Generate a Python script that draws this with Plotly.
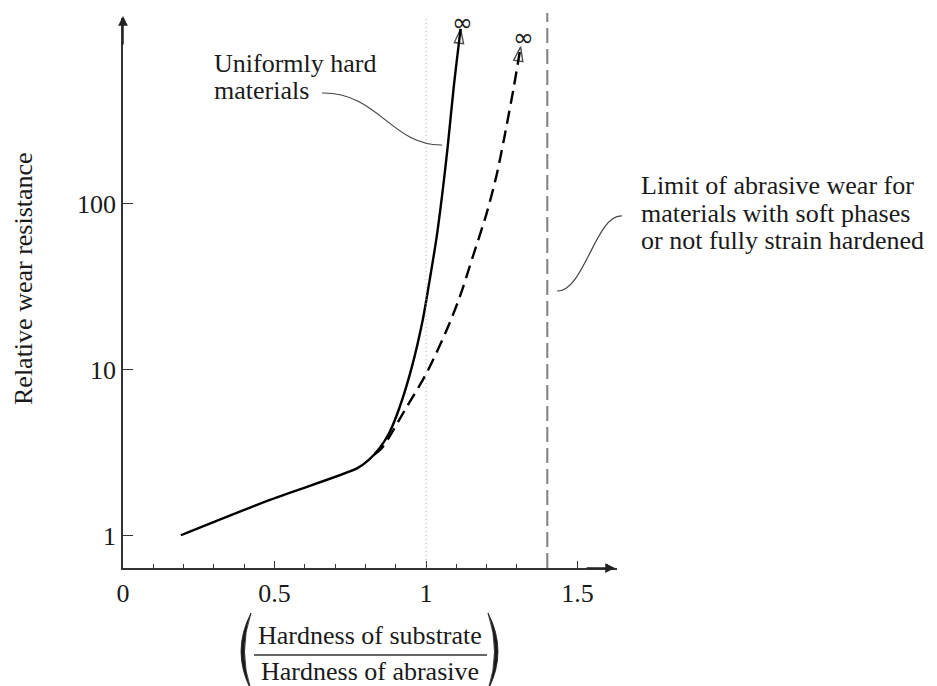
import plotly.graph_objects as go

# ---------------- data ----------------
solid_x = [0.191, 0.485, 0.775, 0.811, 0.847, 0.880, 0.913, 0.953, 0.989, 1.012, 1.035, 1.055, 1.072, 1.091, 1.114]
solid_y = [1.01, 1.65, 2.57, 2.87, 3.39, 4.23, 5.98, 10.4, 20.0, 34.9, 63.3, 121, 227, 500, 1133]

dashed_x = [0.83, 0.857, 0.936, 1.002, 1.068, 1.111, 1.154, 1.200, 1.233, 1.263, 1.289, 1.312]
dashed_y = [3.1, 3.44, 5.98, 9.6, 17.4, 27.5, 48, 88, 150, 279, 500, 883]

limit_x = 1.4          # limit for materials with soft phases
unit_x = 1.0           # hardness ratio = 1

x_tickvals = [0, 0.5, 1, 1.5]
x_ticktext = ["0", "0.5", "1", "1.5"]
y_tickvals = [1, 10, 100]
y_ticktext = ["1", "10", "100"]

label_uniform = ["Uniformly hard", "materials"]
label_limit = ["Limit of abrasive wear for", "materials with soft phases", "or not fully strain hardened"]
label_y = "Relative wear resistance"
label_num = "Hardness of substrate"
label_den = "Hardness of abrasive"

# ---------------- layout geometry (reference pixel frame) ----------------
OX, OY = 8, 8                      # page body offset
W, H = 937 - 2 * OX, 686 - OY
L, T = 123, 18                     # plot-area left / top in page pixels
PW, PH = 494, 550
FONT = "Liberation Serif"
FS = 26
INK = "#1a1a1a"


def px(x):
    return (x - L) / PW


def py(y):
    return (T + PH - y) / PH


fig = go.Figure()

arrow_marker = dict(symbol="arrow-open", angleref="previous", color="black",
                    line=dict(width=1.4, color="black"))

fig.add_trace(go.Scatter(
    x=solid_x, y=solid_y, mode="lines+markers",
    line=dict(color="black", width=2.4, shape="spline", smoothing=0.8),
    marker=dict(size=[0] * (len(solid_x) - 1) + [15], **arrow_marker),
    showlegend=False, hoverinfo="skip", cliponaxis=False,
))
fig.add_trace(go.Scatter(
    x=dashed_x, y=dashed_y, mode="lines+markers",
    line=dict(color="black", width=2.4, dash="13px,7px", shape="spline", smoothing=0.8),
    marker=dict(size=[0] * (len(dashed_x) - 1) + [15], **arrow_marker),
    showlegend=False, hoverinfo="skip", cliponaxis=False,
))

shapes = []
# reference lines
shapes.append(dict(type="line", xref="x", yref="paper", x0=unit_x, x1=unit_x, y0=0, y1=py(16),
                   line=dict(color="#b0b0b0", width=1, dash="1px,3px")))
shapes.append(dict(type="line", xref="x", yref="paper", x0=limit_x, x1=limit_x, y0=0, y1=py(13),
                   line=dict(color="#808080", width=2, dash="15px,6px")))


def bez(p0, c1, c2, p1):
    return "M{},{} C{},{} {},{} {},{}".format(px(p0[0]), py(p0[1]), px(c1[0]), py(c1[1]),
                                             px(c2[0]), py(c2[1]), px(p1[0]), py(p1[1]))


# leader lines
shapes.append(dict(type="path", xref="paper", yref="paper",
                   path=bez((322, 93), (378, 92), (392, 146), (442, 145)),
                   line=dict(color="#444", width=1.2)))
shapes.append(dict(type="path", xref="paper", yref="paper",
                   path=bez((622, 216), (596, 214), (584, 292), (557, 291)),
                   line=dict(color="#444", width=1.2)))


# parentheses of the fraction
def paren(tip_x, out_c, in_c, top, bot):
    mid = (top + bot) / 2
    return "M{},{} Q{},{} {},{} Q{},{} {},{} Z".format(
        px(tip_x), py(top), px(out_c), py(mid), px(tip_x), py(bot),
        px(in_c), py(mid), px(tip_x), py(top))


shapes.append(dict(type="path", xref="paper", yref="paper",
                   path=paren(251, 231, 238, 613, 690), fillcolor=INK,
                   line=dict(color=INK, width=0.8)))
shapes.append(dict(type="path", xref="paper", yref="paper",
                   path=paren(488, 508, 501, 613, 690), fillcolor=INK,
                   line=dict(color=INK, width=0.8)))
# fraction bar
shapes.append(dict(type="line", xref="paper", yref="paper", x0=px(254), x1=px(487), y0=py(655), y1=py(655),
                   line=dict(color="#333", width=1.5)))

annotations = []
# axis arrows
annotations.append(dict(x=0, y=py(16), xref="paper", yref="paper", text="", showarrow=True,
                        ax=0, ay=30, arrowhead=2, arrowsize=1.3, arrowwidth=1.5, arrowcolor="#222"))
annotations.append(dict(x=px(615), y=0, xref="paper", yref="paper", text="", showarrow=True,
                        ax=-30, ay=0, arrowhead=2, arrowsize=1.3, arrowwidth=1.5, arrowcolor="#222"))
# infinity symbols
for cx, cy in [(462, 23), (523, 37)]:
    annotations.append(dict(x=px(cx), y=py(cy), xref="paper", yref="paper", text="∞", showarrow=False,
                            xanchor="center", yanchor="middle",
                            font=dict(size=25, color=INK, family="DejaVu Sans")))
# labels
for i, line in enumerate(label_uniform):
    annotations.append(dict(x=px(212), y=py(64 + 27 * i), xref="paper", yref="paper", text=line,
                            showarrow=False, xanchor="left", yanchor="middle", align="left",
                            font=dict(size=FS, color=INK, family=FONT)))
for i, line in enumerate(label_limit):
    annotations.append(dict(x=px(639), y=py(186 + 27.5 * i), xref="paper", yref="paper", text=line,
                            showarrow=False, xanchor="left", yanchor="middle", align="left",
                            font=dict(size=FS, color=INK, family=FONT)))
annotations.append(dict(x=px(24), y=py(279), xref="paper", yref="paper", text=label_y,
                        showarrow=False, textangle=-90, xanchor="center", yanchor="middle",
                        font=dict(size=FS, color=INK, family=FONT)))
annotations.append(dict(x=px(370), y=py(635), xref="paper", yref="paper", text=label_num,
                        showarrow=False, xanchor="center", yanchor="middle",
                        font=dict(size=FS, color=INK, family=FONT)))
annotations.append(dict(x=px(370), y=py(672), xref="paper", yref="paper", text=label_den,
                        showarrow=False, xanchor="center", yanchor="middle",
                        font=dict(size=FS, color=INK, family=FONT)))

fig.update_layout(
    width=W, height=H,
    margin=dict(l=L - OX, r=W - (L - OX) - PW, t=T - OY, b=H - (T - OY) - PH, autoexpand=False),
    paper_bgcolor="white", plot_bgcolor="white",
    font=dict(family=FONT, size=FS, color=INK),
    shapes=shapes, annotations=annotations,
    xaxis=dict(range=[0, 1.63], tickvals=x_tickvals, ticktext=x_ticktext,
               showline=True, linecolor="#333", linewidth=1.5, showgrid=False, zeroline=False,
               ticks="inside", ticklen=7, tickwidth=1.2, tickcolor="#333", ticklabelstandoff=1,
               minor=dict(dtick=0.1, tick0=0, ticks="inside", ticklen=4, tickwidth=1, tickcolor="#333",
                          showgrid=False),
               fixedrange=True),
    yaxis=dict(type="log", range=[-0.193, 3.12], tickvals=y_tickvals, ticktext=y_ticktext,
               showline=True, linecolor="#333", linewidth=1.5, showgrid=False, zeroline=False,
               ticks="inside", ticklen=10, tickwidth=1.2, tickcolor="#333", ticklabelstandoff=0,
               fixedrange=True),
)

fig.write_html("out.html")
